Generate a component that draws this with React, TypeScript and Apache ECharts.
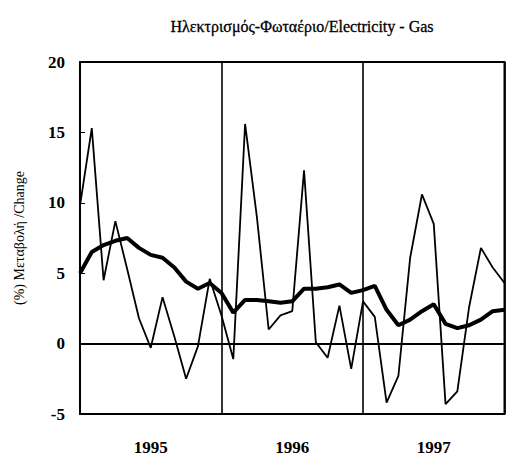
import React, { useEffect, useRef } from "react";
import * as echarts from "echarts";

const months: string[] = [
  "1994-12",
  "1995-01", "1995-02", "1995-03", "1995-04", "1995-05", "1995-06",
  "1995-07", "1995-08", "1995-09", "1995-10", "1995-11", "1995-12",
  "1996-01", "1996-02", "1996-03", "1996-04", "1996-05", "1996-06",
  "1996-07", "1996-08", "1996-09", "1996-10", "1996-11", "1996-12",
  "1997-01", "1997-02", "1997-03", "1997-04", "1997-05", "1997-06",
  "1997-07", "1997-08", "1997-09", "1997-10", "1997-11", "1997-12",
];

const monthlyChange: number[] = [
  9.8, 15.3, 4.5, 8.7, 5.3, 1.8, -0.3, 3.3, 0.5, -2.5, -0.2, 4.6,
  2.0, -1.1, 15.6, 9.0, 1.0, 2.0, 2.3, 12.3, 0.1, -1.0, 2.7, -1.8,
  3.0, 1.9, -4.2, -2.3, 6.1, 10.6, 8.5, -4.3, -3.4, 2.6, 6.8, 5.4, 4.3,
];

const movingAverage: number[] = [
  5.0, 6.5, 7.0, 7.3, 7.5, 6.8, 6.3, 6.1, 5.4, 4.4, 3.9, 4.3,
  3.6, 2.2, 3.1, 3.1, 3.0, 2.9, 3.0, 3.9, 3.9, 4.0, 4.2, 3.6,
  3.8, 4.1, 2.4, 1.3, 1.7, 2.3, 2.8, 1.4, 1.1, 1.3, 1.7, 2.3, 2.4,
];

const yTicks = { min: -5, max: 20, interval: 5 };

const titleText = "Ηλεκτρισμός-Φωταέριο/Electricity - Gas";
const yAxisName = "(%) Μεταβολή /Change";

const FONT = "'Liberation Serif', 'DejaVu Serif', serif";

export default function App() {
  const ref = useRef<HTMLDivElement>(null);

  useEffect(() => {
    if (!ref.current) return;
    const chart = echarts.init(ref.current, null, { renderer: "svg" });
    chart.setOption({
      animation: false,
      backgroundColor: "#ffffff",
      title: {
        text: titleText,
        left: 297,
        top: 13,
        textAlign: "center",
        textStyle: {
          fontFamily: FONT,
          fontSize: 16,
          fontWeight: "normal",
          color: "#000",
          textBorderColor: "#000",
          textBorderWidth: 0.3,
        },
      },
      grid: {
        left: 80,
        right: 1.5,
        top: 62,
        bottom: 42,
        show: true,
        borderColor: "#000",
        borderWidth: 2,
        backgroundColor: "transparent",
      },
      xAxis: {
        type: "category",
        data: months,
        boundaryGap: false,
        axisLine: { show: true, lineStyle: { color: "#000", width: 2 } },
        axisTick: { show: false },
        axisLabel: {
          interval: (index: number) => index % 12 === 6,
          formatter: (v: string) => v.slice(0, 4),
          margin: 25,
          fontFamily: FONT,
          fontSize: 17,
          fontWeight: "bold",
          color: "#000",
        },
        splitLine: {
          show: true,
          interval: (index: number) => index % 12 === 0,
          lineStyle: { color: "#000", width: 1.6 },
        },
      },
      yAxis: {
        type: "value",
        min: yTicks.min,
        max: yTicks.max,
        interval: yTicks.interval,
        name: yAxisName,
        nameLocation: "middle",
        nameGap: 54,
        nameTextStyle: { fontFamily: FONT, fontSize: 14, color: "#000" },
        axisLine: { show: true, lineStyle: { color: "#000", width: 2 } },
        axisTick: { show: true, inside: true, length: 5, lineStyle: { color: "#000" } },
        axisLabel: {
          margin: 15,
          fontFamily: FONT,
          fontSize: 17,
          fontWeight: "bold",
          color: "#000",
        },
        splitLine: { show: false },
      },
      series: [
        {
          type: "line",
          name: "monthly",
          data: monthlyChange,
          symbol: "none",
          lineStyle: { color: "#000", width: 1.8 },
          z: 3,
          markLine: {
            silent: true,
            symbol: "none",
            label: { show: false },
            lineStyle: { color: "#000", width: 1, type: "solid" },
            data: [{ yAxis: 0 }],
          },
        },
        {
          type: "line",
          name: "average",
          data: movingAverage,
          symbol: "none",
          lineStyle: { color: "#000", width: 4 },
          z: 4,
        },
      ],
    });
    return () => chart.dispose();
  }, []);

  return (
    <div
      ref={ref}
      style={{ position: "fixed", left: 0, top: 0, width: 506, height: 456 }}
    />
  );
}
